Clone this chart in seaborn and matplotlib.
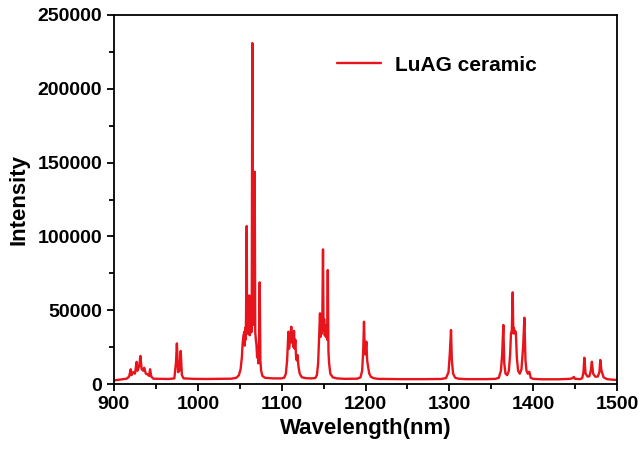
import matplotlib
matplotlib.use("Agg")
import matplotlib.pyplot as plt
from matplotlib.ticker import MultipleLocator
import seaborn as sns
import pandas as pd

# Emission spectrum of the LuAG ceramic sample, (wavelength nm, intensity counts),
# grouped by emission band.
band_900 = [
    (900, 2500), (905, 2800), (910, 3200), (915, 3600), (918, 5000), (920, 10000),
    (921, 6000), (923, 8000), (925, 7000), (927, 15000), (928, 9000), (930, 12000),
    (931.5, 19000), (933, 10000), (935, 9000), (936, 11000), (938, 7000), (940, 6500),
    (942, 5500), (943, 10000), (944.5, 5000), (947, 3600), (955, 3500), (965, 3400),
    (972, 3800), (974, 15000), (975, 27500), (976.5, 8000), (978, 9000),
    (979.6, 22400), (981, 6000), (983, 3800), (995, 3500), (1010, 3400), (1025, 3500),
    (1040, 3600), (1046, 4200),
]
band_1064 = [
    (1049, 6000), (1051, 10000), (1052.5, 18000), (1053.5, 28000), (1054.5, 33000),
    (1055.5, 35400), (1056, 26000), (1056.5, 38000), (1057, 30000), (1057.5, 45000),
    (1058.3, 107000), (1058.8, 36000), (1059.3, 52000), (1059.8, 34000),
    (1060.3, 58000), (1060.8, 38000), (1061.3, 60000), (1061.8, 33000),
    (1062.3, 55000), (1062.8, 36000), (1063.3, 50000), (1063.8, 35000),
    (1064.3, 48000), (1065, 231000), (1065.6, 45000), (1066.2, 62000),
    (1066.8, 40000), (1067.8, 143800), (1068.5, 35000), (1069.2, 30000),
    (1070, 26000), (1070.7, 18000), (1071.4, 22000), (1072.2, 14000), (1073, 30000),
    (1073.8, 68900), (1074.6, 16000), (1075.5, 9000), (1077, 5500), (1080, 4200),
    (1085, 4000), (1090, 3800),
]
band_1110 = [
    (1100, 3800), (1103, 4300), (1105, 7000), (1106.5, 16000), (1108, 35400),
    (1109, 24000), (1110, 30000), (1111.5, 38800), (1112.3, 28000), (1113, 33000),
    (1114, 25000), (1114.7, 36000), (1115.5, 24000), (1116.3, 30000),
    (1117.2, 18000), (1118, 16000), (1119, 19600), (1120, 12000), (1121.5, 7000),
    (1124, 4600), (1128, 4000), (1135, 3800),
]
band_1150 = [
    (1140, 4000), (1142, 6000), (1143.5, 14000), (1144.5, 30000), (1145.7, 47900),
    (1146.4, 32000), (1147.1, 42000), (1147.8, 34000), (1148.5, 45000),
    (1149.3, 91200), (1150, 36000), (1150.7, 44000), (1151.4, 33000),
    (1152.1, 40000), (1152.8, 32000), (1153.5, 38000), (1154.2, 30000),
    (1155, 77200), (1155.8, 22000), (1156.6, 14000), (1158, 7000), (1161, 4500),
    (1166, 3800), (1175, 3500),
]
band_1200 = [
    (1190, 3600), (1194, 4500), (1196, 9000), (1197.2, 22000), (1198.2, 42200),
    (1199, 24000), (1199.8, 20000), (1201, 28700), (1202, 16000), (1203, 12000),
    (1204.5, 7000), (1206.5, 4800), (1210, 3900), (1215, 3500), (1240, 3300),
    (1270, 3300), (1290, 3400),
]
band_1300 = [
    (1296, 4000), (1299, 8000), (1300.5, 20000), (1302, 36600), (1303, 16000),
    (1304.5, 7000), (1307, 4200), (1311, 3600), (1320, 3300), (1345, 3300),
    (1355, 3500),
]
band_1375 = [
    (1359, 4200), (1361.5, 9000), (1363, 20000), (1364.4, 40000), (1365.5, 14000),
    (1367, 7000), (1369, 6000), (1371, 9000), (1372.5, 20000), (1373.5, 34300),
    (1374.5, 36000), (1375.6, 62100), (1376.3, 34300), (1377, 38000),
    (1377.8, 34300), (1378.6, 36000), (1379.4, 34300), (1380.5, 18000),
    (1382, 9000), (1384, 7000), (1386, 10000), (1388, 25000), (1389.5, 44900),
    (1390.8, 16000), (1392, 9000), (1393.5, 7000), (1395.4, 8300), (1397, 4200),
    (1400, 3500), (1410, 3200),
]
band_1470 = [
    (1430, 3200), (1444, 3500), (1447, 4000), (1448.5, 4800), (1450, 3500),
    (1456, 3300), (1458.5, 4000), (1460, 8000), (1461, 17800), (1462.5, 7000),
    (1465, 5000), (1467, 5200), (1468.7, 9000), (1470, 15100), (1471.5, 7000),
    (1474, 5000), (1477, 5000), (1479, 8000), (1480, 16300), (1481.5, 9000),
    (1484, 4500), (1488, 3300), (1495, 2900), (1500, 2800),
]
series_label = "LuAG ceramic"

x_ticks = [900, 1000, 1100, 1200, 1300, 1400, 1500]
y_ticks = [0, 50000, 100000, 150000, 200000, 250000]

spectrum = (band_900 + band_1064 + band_1110 + band_1150 + band_1200 + band_1300
            + band_1375 + band_1470)
df = pd.DataFrame(spectrum, columns=["Wavelength", "Intensity"])

sns.set_style("ticks")
plt.rcParams["font.family"] = ["Liberation Sans", "DejaVu Sans"]
plt.rcParams["font.weight"] = "bold"
plt.rcParams["text.color"] = "black"
plt.rcParams["axes.labelcolor"] = "black"

fig = plt.figure(figsize=(6.39, 4.53), dpi=100)
ax = fig.add_axes([0.1784, 0.1523, 0.7872, 0.8146])

sns.lineplot(data=df, x="Wavelength", y="Intensity", color="#e8141c",
             linewidth=1.7, label=series_label, sort=False, ax=ax)

ax.set_xlim(900, 1500)
ax.set_ylim(0, 250000)
ax.set_xticks(x_ticks)
ax.set_xticklabels([str(v) for v in x_ticks])
ax.set_yticks(y_ticks)
ax.set_yticklabels([str(v) for v in y_ticks])
ax.xaxis.set_minor_locator(MultipleLocator(50))
ax.yaxis.set_minor_locator(MultipleLocator(25000))

ax.tick_params(axis="both", which="major", direction="out", length=5, width=1.3,
               labelsize=14, colors="black", labelcolor="black")
ax.tick_params(axis="both", which="minor", direction="out", length=3.5, width=1.3,
               colors="black")
for lbl in ax.get_xticklabels() + ax.get_yticklabels():
    lbl.set_fontweight("bold")

for side in ["top", "right", "bottom", "left"]:
    ax.spines[side].set_visible(True)
    ax.spines[side].set_linewidth(1.3)
    ax.spines[side].set_color("black")

ax.set_xlabel("Wavelength(nm)", fontsize=16, fontweight="bold", labelpad=4,
              color="black")
ax.set_ylabel("Intensity", fontsize=16, fontweight="bold", labelpad=6, color="black")

leg = ax.legend(loc="center left", bbox_to_anchor=(0.443, 0.864), frameon=False,
                borderaxespad=0, borderpad=0, handlelength=2.1, handletextpad=0.7,
                prop={"size": 15, "weight": "bold"})
for txt in leg.get_texts():
    txt.set_color("black")

fig.savefig("out.png", dpi=100)
